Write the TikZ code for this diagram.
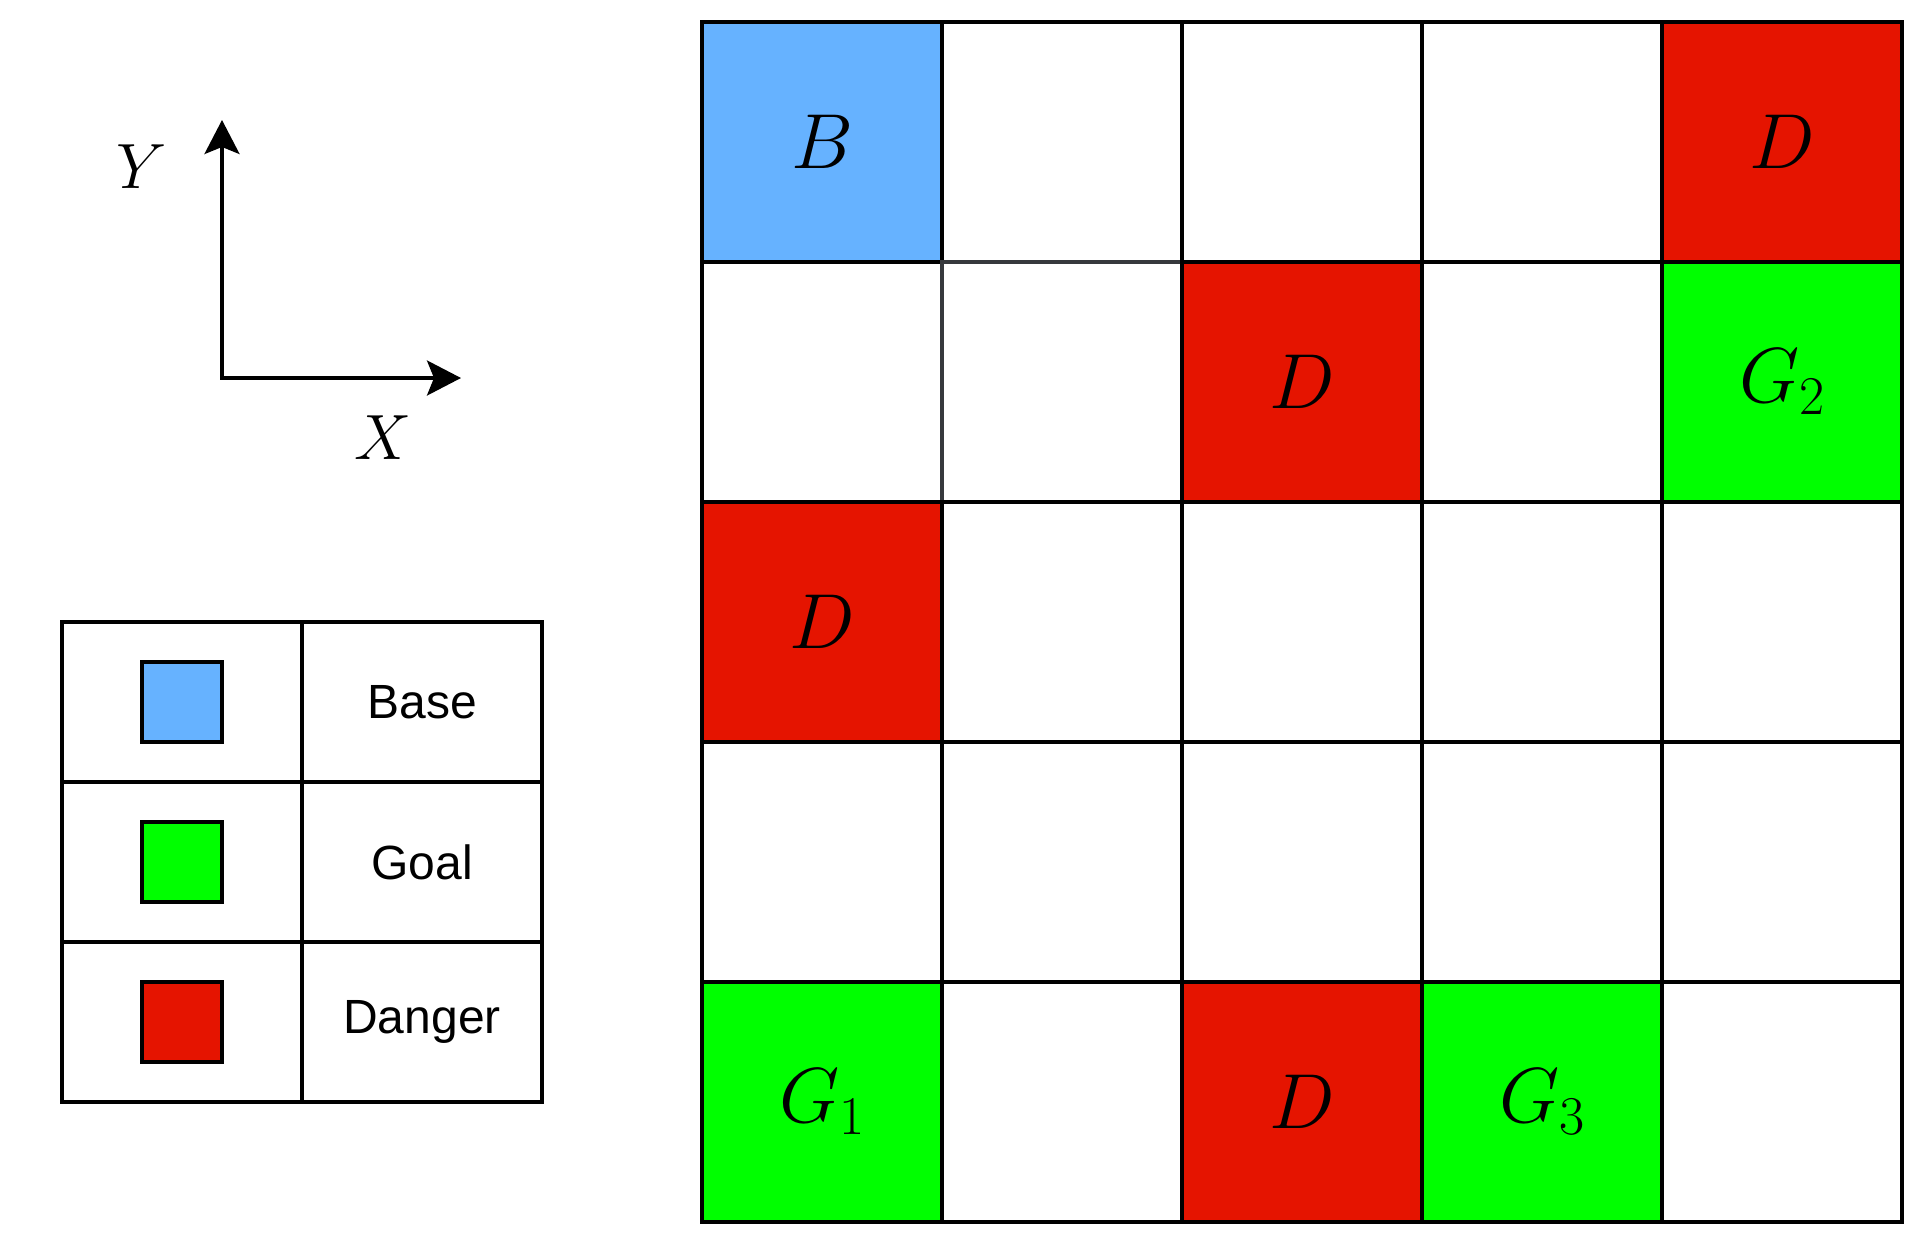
\RequirePackage{fix-cm}
\documentclass[tikz,border=0pt]{standalone}
\usepackage{fontspec}
\setsansfont{Liberation Sans}
\usetikzlibrary{arrows.meta}
\definecolor{baseblue}{HTML}{66B2FF}
\definecolor{goalgreen}{HTML}{00FF00}
\definecolor{dangerred}{HTML}{E51400}
\definecolor{softgray}{HTML}{36393D}
\begin{document}
\begin{tikzpicture}[x=1pt,y=-1pt,
  cell/.style={draw=black, fill=white, line width=3.4pt, minimum size=240pt, inner sep=0pt,
    font=\fontsize{78}{82}\selectfont},
  basecell/.style={cell, fill=baseblue},
  goalcell/.style={cell, fill=goalgreen},
  dangercell/.style={cell, fill=dangerred},
  graycell/.style={cell, draw=softgray},
  legcell/.style={draw=black, line width=3.4pt, minimum width=240pt, minimum height=160pt, inner sep=0pt,
    font=\sffamily\fontsize{48}{52}\selectfont},
  swatch/.style={draw=black, line width=3.4pt, minimum size=80pt, inner sep=0pt},
  axislabel/.style={inner sep=0pt, font=\fontsize{64}{68}\selectfont},
  axis/.style={line width=3.4pt, line join=miter, {Stealth[length=34pt,width=35pt,inset=7pt]}-{Stealth[length=34pt,width=35pt,inset=7pt]}}
]
\useasboundingbox (0,0) rectangle (1924,1244);
\fill[white] (0,0) rectangle (1924,1244);

% axes
\coordinate (ytip) at (222,120);
\coordinate (orig) at (222,378);
\coordinate (xtip) at (461,378);
\draw[axis] (ytip) -- (orig) -- (xtip);
\node[axislabel] (ylab) at (142,167) {$Y$};
\node[axislabel] (xlab) at (383,438) {$X$};

% grid row 0
\node[basecell] (c00) at (822,142) {$B$};
\node[cell] (c01) at (1062,142) {};
\node[cell] (c02) at (1302,142) {};
\node[cell] (c03) at (1542,142) {};
\node[dangercell] (c04) at (1782,142) {$D$};
% row 1
\node[cell] (c10) at (822,382) {};
\node[graycell] (c11) at (1062,382) {};
\node[dangercell] (c12) at (1302,382) {$D$};
\node[cell] (c13) at (1542,382) {};
\node[goalcell] (c14) at (1782,382) {$G_2$};
% row 2
\node[dangercell] (c20) at (822,622) {$D$};
\node[cell] (c21) at (1062,622) {};
\node[cell] (c22) at (1302,622) {};
\node[cell] (c23) at (1542,622) {};
\node[cell] (c24) at (1782,622) {};
% row 3
\node[cell] (c30) at (822,862) {};
\node[cell] (c31) at (1062,862) {};
\node[cell] (c32) at (1302,862) {};
\node[cell] (c33) at (1542,862) {};
\node[cell] (c34) at (1782,862) {};
% row 4
\node[goalcell] (c40) at (822,1102) {$G_1$};
\node[cell] (c41) at (1062,1102) {};
\node[dangercell] (c42) at (1302,1102) {$D$};
\node[goalcell] (c43) at (1542,1102) {$G_3$};
\node[cell] (c44) at (1782,1102) {};

% legend
\node[legcell] (l1a) at (182,702) {};
\node[legcell] (l1b) at (422,702) {Base};
\node[legcell] (l2a) at (182,862) {};
\node[legcell] (l2b) at (422,862) {Goal};
\node[legcell] (l3a) at (182,1022) {};
\node[legcell] (l3b) at (422,1022) {Danger};
\node[swatch, fill=baseblue] (s1) at (l1a) {};
\node[swatch, fill=goalgreen] (s2) at (l2a) {};
\node[swatch, fill=dangerred] (s3) at (l3a) {};
\end{tikzpicture}
\end{document}
